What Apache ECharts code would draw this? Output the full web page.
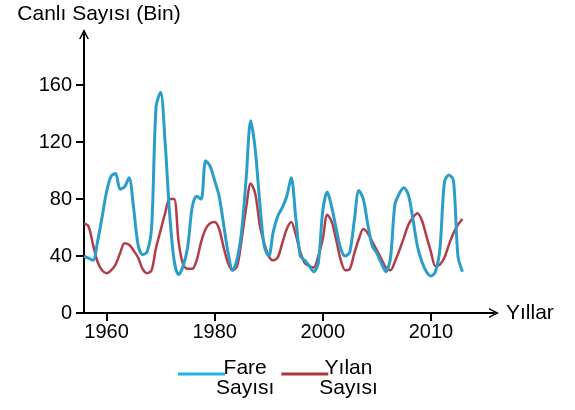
<!DOCTYPE html>
<html>
<head>
<meta charset="utf-8">
<script src="https://cdn.jsdelivr.net/npm/echarts@6/dist/echarts.min.js"></script>
<style>
html, body { margin: 0; padding: 0; background: #fff; }
#chart { width: 575px; height: 410px; }
</style>
</head>
<body>
<div id="chart"></div>
<script>
// Canlı sayısı (bin) - fare ve yılan
var fare = [40, 38.5, 37, 50, 67, 85, 96, 98, 87, 88.6, 95, 74, 48, 41, 43, 60,
    145, 155, 120, 70, 37, 27, 33, 46, 74, 82, 80, 107, 103, 93, 82, 62, 42, 30,
    38, 58, 95, 135, 115, 78, 47, 40, 57, 68, 74, 82, 95, 67, 40, 37, 33, 29, 35,
    72, 85, 74, 59, 45, 40, 43, 65, 86, 80, 62, 47, 42, 35, 29, 38, 76, 84, 88,
    83, 66, 47, 36, 29, 26, 29, 45, 92, 97, 93, 40, 29];
var yilan = [63, 61, 48, 36, 30, 28, 30, 34, 42, 49, 48, 44, 39, 31, 28, 30, 46,
    58, 70, 80, 80, 50, 34, 31, 31, 37, 50, 59, 63, 64, 59, 46, 35, 30, 33, 52,
    74, 91, 84, 62, 49, 40, 37, 39, 49, 59, 64, 55, 43, 35, 33, 32, 40, 52, 69,
    64, 51, 37, 30, 31, 42, 52, 59, 56, 50, 44, 38, 32, 30, 36, 44, 53, 62, 67,
    70, 65, 54, 43, 33, 34, 39, 48, 56, 62, 66];
var yilTicks = ['1960', '1980', '2000', '2010'];
var yilTickIndex = [5, 29, 53, 77];
var degerTicks = [0, 40, 80, 120, 160];
var slotSayisi = 92;

var kategoriler = [];
for (var i = 0; i < slotSayisi; i++) {
    var k = yilTickIndex.indexOf(i);
    kategoriler.push(k >= 0 ? yilTicks[k] : '');
}
function tickVar(index) {
    return yilTickIndex.indexOf(index) >= 0;
}

var font = '"Liberation Sans", Arial, sans-serif';
var arrow = 'path://M0,10 L5,0 L10,10 L8.4,10 L5,3.4 L1.6,10 Z';

var myChart = echarts.init(document.getElementById('chart'));
var option = {
    animation: false,
    textStyle: { fontFamily: font },
    grid: { left: 84, right: 81, top: 34, bottom: 97 },
    legend: {
        left: 173,
        top: 345,
        icon: 'rect',
        itemWidth: 47,
        itemHeight: 3,
        itemGap: 7,
        textStyle: {
            color: '#000',
            fontSize: 21,
            fontFamily: font,
            lineHeight: 20,
            padding: [8, 0, 0, -14],
            rich: {
                t: { fontSize: 21, lineHeight: 20, align: 'center', color: '#000' }
            }
        },
        formatter: function (name) {
            var p = name.split(' ');
            return '{t|' + p[0] + '}\n{t|' + p[1] + '}';
        },
        data: [
            { name: 'Fare Sayısı', itemStyle: { color: '#22b2e6' } },
            { name: 'Yılan Sayısı', itemStyle: { color: '#a8393f' } }
        ]
    },
    xAxis: {
        type: 'category',
        boundaryGap: false,
        data: kategoriler,
        name: 'Yıllar',
        nameLocation: 'end',
        nameGap: 12,
        nameTextStyle: { color: '#000', fontSize: 21, fontFamily: font },
        axisLine: {
            lineStyle: { color: '#000', width: 2 },
            symbol: ['none', arrow],
            symbolSize: [10, 10]
        },
        axisTick: { interval: tickVar, length: 8, lineStyle: { color: '#000', width: 2 } },
        axisLabel: { interval: tickVar, color: '#000', fontSize: 20, margin: 9, fontFamily: font },
        splitLine: { show: false }
    },
    yAxis: {
        type: 'value',
        min: 0,
        max: 196,
        name: 'Canlı Sayısı (Bin)',
        nameLocation: 'end',
        nameGap: 9,
        nameTextStyle: { color: '#000', fontSize: 21, fontFamily: font, align: 'center', padding: [0, 0, 0, 30] },
        axisLine: {
            show: true,
            lineStyle: { color: '#000', width: 2 },
            symbol: ['none', arrow],
            symbolSize: [10, 10]
        },
        axisTick: { show: true, customValues: degerTicks, length: 8, lineStyle: { color: '#000', width: 2 } },
        axisLabel: { customValues: degerTicks, color: '#000', fontSize: 20, margin: 12, fontFamily: font },
        splitLine: { show: false }
    },
    series: [
        {
            name: 'Fare Sayısı',
            type: 'line',
            data: fare,
            smooth: 0.3,
            showSymbol: false,
            lineStyle: { color: '#2a9ec9', width: 3 },
            itemStyle: { color: '#2a9ec9' },
            z: 3
        },
        {
            name: 'Yılan Sayısı',
            type: 'line',
            data: yilan,
            smooth: 0.3,
            showSymbol: false,
            lineStyle: { color: '#b23c48', width: 2.5 },
            itemStyle: { color: '#b23c48' },
            z: 2
        }
    ]
};
myChart.setOption(option);
</script>
</body>
</html>
